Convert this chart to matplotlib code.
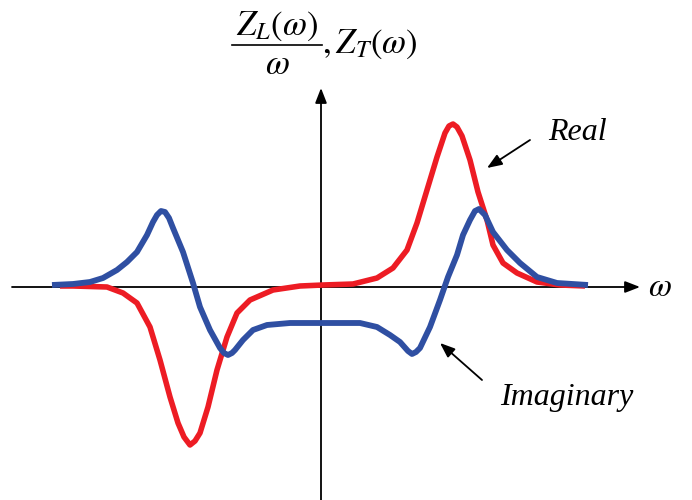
import numpy as np
import matplotlib
matplotlib.use("Agg")
import matplotlib.pyplot as plt

plt.rcParams['mathtext.fontset'] = 'stix'
plt.rcParams['font.family'] = ['Liberation Serif', 'DejaVu Serif']

# curves (omega, value), origin at the axes crossing
real_w = [-2.61, -2.48, -2.14, -1.98, -1.84, -1.71, -1.61, -1.51, -1.43, -1.37,
          -1.31, -1.26, -1.21, -1.13, -1.04, -0.94, -0.84, -0.71, -0.48, -0.21,
          0.02, 0.32, 0.56, 0.72, 0.86, 0.96, 1.06, 1.16, 1.24, 1.28,
          1.32, 1.36, 1.41, 1.49, 1.57, 1.66, 1.72, 1.82, 1.96, 2.16,
          2.39, 2.64]
real_z = [0.01, 0.01, 0.00, -0.06, -0.16, -0.40, -0.73, -1.10, -1.36, -1.50,
          -1.58, -1.54, -1.46, -1.20, -0.83, -0.50, -0.26, -0.13, -0.03, 0.01,
          0.02, 0.03, 0.09, 0.19, 0.37, 0.64, 0.97, 1.30, 1.54, 1.61,
          1.63, 1.60, 1.51, 1.27, 0.95, 0.67, 0.42, 0.24, 0.14, 0.05,
          0.02, 0.01]

imag_w = [-2.69, -2.48, -2.31, -2.18, -2.04, -1.94, -1.84, -1.74, -1.68, -1.64,
          -1.60, -1.56, -1.52, -1.48, -1.38, -1.28, -1.21, -1.11, -1.01, -0.97,
          -0.93, -0.89, -0.86, -0.78, -0.68, -0.54, -0.31, -0.01, 0.39, 0.56,
          0.69, 0.79, 0.87, 0.91, 0.95, 0.99, 1.09, 1.19, 1.27, 1.36,
          1.42, 1.49, 1.54, 1.58, 1.64, 1.72, 1.86, 1.99, 2.16, 2.36,
          2.67]
imag_z = [0.02, 0.03, 0.05, 0.09, 0.17, 0.25, 0.35, 0.52, 0.65, 0.72,
          0.76, 0.75, 0.69, 0.59, 0.35, 0.04, -0.20, -0.43, -0.61, -0.66,
          -0.68, -0.66, -0.63, -0.53, -0.43, -0.38, -0.36, -0.36, -0.36, -0.40,
          -0.48, -0.55, -0.64, -0.67, -0.65, -0.61, -0.40, -0.13, 0.10, 0.32,
          0.52, 0.67, 0.76, 0.78, 0.72, 0.55, 0.37, 0.24, 0.10, 0.04,
          0.02]

RED = '#ed1c24'
BLUE = '#2f4fa2'

fig = plt.figure(figsize=(6.92, 5.0), dpi=100)
ax = fig.add_axes([0, 0, 1, 1])
ax.set_xlim(-3.21, 3.71)
ax.set_ylim(-2.13, 2.87)
ax.axis('off')

# axes with arrow heads
arrow = dict(arrowstyle='-|>,head_length=0.9,head_width=0.35', color='black',
             lw=1.3, shrinkA=0, shrinkB=0)
ax.annotate('', xy=(3.19, 0), xytext=(-3.09, 0), arrowprops=arrow)
ax.annotate('', xy=(0, 1.99), xytext=(0, -2.13), arrowprops=arrow)

ax.plot(real_w, real_z, color=RED, lw=4.0, solid_capstyle='butt',
        solid_joinstyle='round', zorder=3)
ax.plot(imag_w, imag_z, color=BLUE, lw=4.2, solid_capstyle='butt',
        solid_joinstyle='round', zorder=4)

# y label: Z_L(w)/w , Z_T(w) built as a spaced-out fraction
ax.text(-0.44, 2.61, r'$Z_L(\omega)$', fontsize=25, ha='center', va='center')
ax.plot([-0.89, 0.01], [2.42, 2.42], color='black', lw=1.2)
ax.text(-0.44, 2.21, r'$\omega$', fontsize=25, ha='center', va='center')
ax.text(0.01, 2.43, r'$, Z_T(\omega)$', fontsize=25, ha='left', va='center')

ax.text(3.27, -0.01, r'$\omega$', fontsize=24, ha='left', va='center')

ax.annotate('', xy=(1.66, 1.19), xytext=(2.09, 1.47), arrowprops=arrow)
ax.text(2.27, 1.54, 'Real', fontsize=23, style='italic', ha='left', va='center')
ax.annotate('', xy=(1.19, -0.56), xytext=(1.61, -0.93), arrowprops=arrow)
ax.text(1.79, -1.11, 'Imaginary', fontsize=23, style='italic', ha='left', va='center')

fig.savefig('out.png', dpi=100)
